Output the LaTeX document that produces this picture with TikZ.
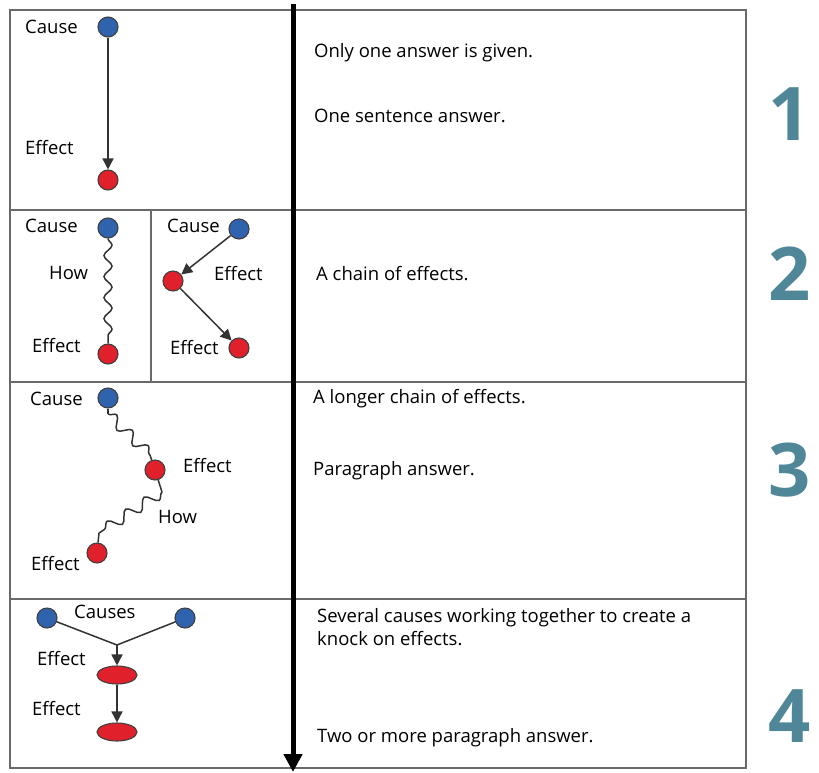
\documentclass[tikz,border=0pt]{standalone}
\usepackage{fontspec}
\setmainfont{Open Sans}
\usetikzlibrary{arrows.meta,decorations.pathmorphing,shapes.geometric}
\definecolor{causeblue}{HTML}{2F63AE}
\definecolor{effred}{HTML}{E0212B}
\definecolor{gridgray}{HTML}{6A6A6A}
\definecolor{numteal}{HTML}{4F8799}
\begin{document}
\begin{tikzpicture}[x=1pt,y=-1pt,
  lbl/.style={font=\fontsize{18.5}{21}\selectfont, inner sep=0pt, anchor=base west},
  txt/.style={font=\fontsize{18.5}{21}\selectfont, inner sep=0pt, anchor=base west},
  causedot/.style={circle, draw=black!75, line width=1.1pt, fill=causeblue, minimum size=20pt, inner sep=0pt},
  effdot/.style={circle, draw=black!75, line width=1.1pt, fill=effred, minimum size=20pt, inner sep=0pt},
  effoval/.style={ellipse, draw=black!75, line width=1.1pt, fill=effred, minimum width=40pt, minimum height=18pt, inner sep=0pt},
  link/.style={draw=black!80, line width=1.5pt},
  arr/.style={link, -{Triangle[length=11pt,width=11pt]}},
  wave/.style={link, decorate, decoration={snake, segment length=21pt, amplitude=4pt}},
  bigwave/.style={link, decorate, decoration={snake, segment length=22pt, amplitude=5.5pt}},
  grid/.style={draw=gridgray, line width=1.5pt},
  numlbl/.style={font=\fontsize{74}{74}\bfseries\selectfont, text=numteal, inner sep=0pt, anchor=base}
]
\useasboundingbox (0,0) rectangle (819,772);
\fill[white] (0,0) rectangle (819,772);

% table
\draw[grid] (10,10) rectangle (746,768);
\draw[grid] (10,210) -- (746,210);
\draw[grid] (10,382) -- (746,382);
\draw[grid] (10,599) -- (746,599);
\draw[grid] (151,210) -- (151,382);

% central arrow
\coordinate (atop) at (293,4);
\coordinate (abot) at (293,772);
\draw[line width=5pt, -{Triangle[length=18pt,width=18pt]}] (atop) -- (abot);

% row 1
\node[causedot] (c1) at (108,27) {};
\node[effdot] (e1) at (108,180) {};
\node[lbl] (c1l) at (25,33) {Cause};
\node[lbl] (e1l) at (25,154) {Effect};
\draw[arr] (c1) -- (e1);
\node[txt] (t1a) at (314,57) {Only one answer is given.};
\node[txt] (t1b) at (314,122) {One sentence answer.};

% row 2 left
\node[causedot] (c2) at (108,228) {};
\node[effdot] (e2) at (108,354) {};
\node[lbl] (c2l) at (25,232) {Cause};
\node[lbl] (h2l) at (49,279) {How};
\node[lbl] (e2l) at (32,352) {Effect};
\draw[wave] (c2) -- (e2);
% row 2 right
\node[causedot] (c2r) at (239,229) {};
\node[effdot] (m2r) at (173,281) {};
\node[effdot] (e2r) at (239,348) {};
\node[lbl] (c2rl) at (167,232) {Cause};
\node[lbl] (m2rl) at (214,280) {Effect};
\node[lbl] (e2rl) at (170,354) {Effect};
\draw[arr] (c2r) -- (m2r);
\draw[arr] (m2r) -- (e2r);
\node[txt] (t2a) at (316,280) {A chain of effects.};

% row 3
\node[causedot] (c3) at (108,398) {};
\node[effdot] (m3) at (155,470) {};
\node[effdot] (e3) at (97,553) {};
\node[lbl] (c3l) at (30,405) {Cause};
\node[lbl] (m3l) at (183,472) {Effect};
\node[lbl] (h3l) at (158,523) {How};
\node[lbl] (e3l) at (31,570) {Effect};
\draw[link] (c3) -- ++(0,16) coordinate (w3a);
\draw[bigwave] (w3a) -- (150,455) coordinate (w3b);
\draw[link] (w3b) -- (m3);
\draw[link] (m3) -- ++(7,22) coordinate (w3c);
\draw[bigwave] (w3c) -- (99,533) coordinate (w3d);
\draw[link] (w3d) -- (e3);
\node[txt] (t3a) at (313,403) {A longer chain of effects.};
\node[txt] (t3b) at (313,475) {Paragraph answer.};

% row 4
\node[causedot] (c4a) at (47,618) {};
\node[causedot] (c4b) at (185,618) {};
\coordinate (j4) at (117,645);
\node[effoval] (e4a) at (117,675) {};
\node[effoval] (e4b) at (117,732) {};
\node[lbl] (c4l) at (74,618) {Causes};
\node[lbl] (e4al) at (37,665) {Effect};
\node[lbl] (e4bl) at (32,715) {Effect};
\draw[link] (c4a) -- (j4);
\draw[link] (c4b) -- (j4);
\draw[arr] (j4) -- (e4a);
\draw[arr] (e4a) -- (e4b);
\node[txt] (t4a) at (317,622) {Several causes working together to create a};
\node[txt] (t4b) at (317,645) {knock on effects.};
\node[txt] (t4c) at (317,742) {Two or more paragraph answer.};

% numbers
\node[numlbl] (num1) at (790,140) {1};
\node[numlbl] (num2) at (790,300) {2};
\node[numlbl] (num3) at (790,496) {3};
\node[numlbl] (num4) at (790,742) {4};
\end{tikzpicture}
\end{document}
